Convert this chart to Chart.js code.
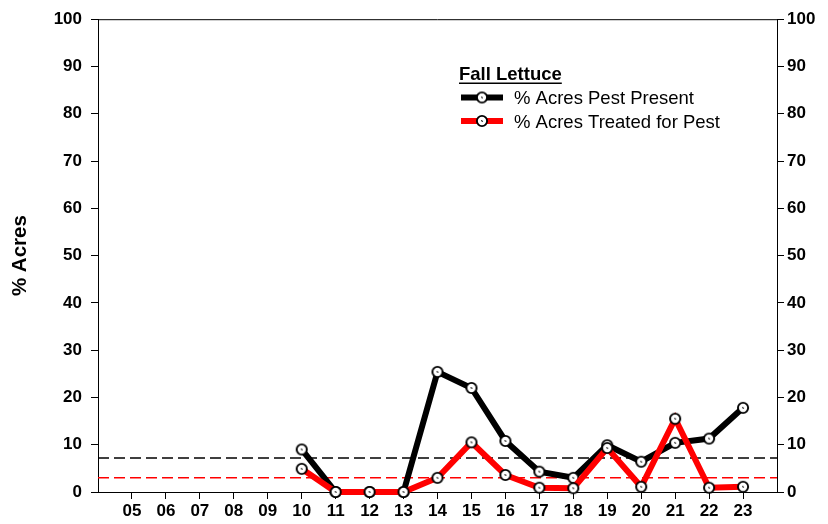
<!DOCTYPE html>
<html>
<head>
<meta charset="utf-8">
<script src="https://cdn.jsdelivr.net/npm/chart.js@4/dist/chart.umd.min.js"></script>
<style>
html,body{margin:0;padding:0;background:#fff;}
#wrap{width:828px;height:524px;position:relative;}
</style>
</head>
<body>
<div id="wrap"><canvas id="c" width="828" height="524"></canvas></div>
<script>
// ---- data ----
const years = ['05','06','07','08','09','10','11','12','13','14','15','16','17','18','19','20','21','22','23'];
const pestPresent = [null,null,null,null,null,9.0,0,0,0,25.4,22.0,10.8,4.3,3.0,9.9,6.4,10.4,11.3,17.8];
const treated     = [null,null,null,null,null,4.9,0,0,0,3.0,10.5,3.6,0.9,0.8,9.3,1.1,15.5,0.9,1.1];
const presentAvg = 7.2;
const treatedAvg = 3.0;
const yTicks = [0,10,20,30,40,50,60,70,80,90,100];
const legendTitle = 'Fall Lettuce';
const seriesNames = ['% Acres Pest Present','% Acres Treated for Pest'];
const axisTitle = '% Acres';

const firstYear = parseInt(years[0],10);
const lastYear = parseInt(years[years.length-1],10);
const toPts = arr => arr.map((v,i)=>({x:firstYear+i,y:v})).filter(p=>p.y!==null);

// marker image
function makeMarker(){
  const c=document.createElement('canvas'); c.width=14; c.height=14;
  const g=c.getContext('2d');
  g.beginPath(); g.arc(7,7,5.1,0,Math.PI*2);
  g.fillStyle='#fff'; g.fill();
  g.lineWidth=1.9; g.strokeStyle='#000'; g.stroke();
  g.beginPath(); g.moveTo(6.3,6.3); g.lineTo(7.7,7.7); g.lineWidth=1.2; g.stroke();
  return c;
}
const marker = makeMarker();

const FONT = "'Liberation Sans', Arial, Helvetica, sans-serif";

const framePlugin = {
  id:'frame',
  afterDraw(chart){
    const {ctx, chartArea:a} = chart;
    ctx.save();
    ctx.strokeStyle='#000'; ctx.lineWidth=1;
    ctx.beginPath(); ctx.moveTo(a.left, a.top+0.5); ctx.lineTo(a.right, a.top+0.5); ctx.stroke();
    // legend
    ctx.fillStyle='#000';
    ctx.font = "bold 18.5px " + FONT;
    ctx.textBaseline='alphabetic';
    ctx.textAlign='left';
    const tx=459, ty=80;
    ctx.fillText(legendTitle, tx, ty);
    const w = ctx.measureText(legendTitle).width;
    ctx.lineWidth=1.6;
    ctx.beginPath(); ctx.moveTo(tx, ty+3.3); ctx.lineTo(tx+w, ty+3.3); ctx.stroke();
    const items = [
      {name:seriesNames[0], color:chart.data.datasets[0].borderColor, y:97.5},
      {name:seriesNames[1], color:chart.data.datasets[1].borderColor, y:121}
    ];
    ctx.font = "18.5px " + FONT;
    items.forEach(it=>{
      ctx.strokeStyle=it.color; ctx.lineWidth=6;
      ctx.beginPath(); ctx.moveTo(461,it.y); ctx.lineTo(503,it.y); ctx.stroke();
      ctx.drawImage(marker, 482-7, it.y-7);
      ctx.fillStyle='#000';
      ctx.fillText(it.name, 514, it.y+6.6);
    });
    ctx.restore();
  }
};

const tickFont = {family:FONT, size:17, weight:'bold'};

new Chart(document.getElementById('c'), {
  type:'line',
  data:{
    datasets:[
      {label:seriesNames[0], data:toPts(pestPresent), borderColor:'#000000', borderWidth:6,
       pointStyle:marker, pointRadius:7, pointHoverRadius:7, tension:0, order:2, clip:false},
      {label:seriesNames[1], data:toPts(treated), borderColor:'#ff0000', borderWidth:6,
       pointStyle:marker, pointRadius:7, pointHoverRadius:7, tension:0, order:1, clip:false},
      {label:'present avg', data:[{x:firstYear-1,y:presentAvg},{x:lastYear+1,y:presentAvg}],
       borderColor:'#000000', borderWidth:1.6, borderDash:[11,5], pointRadius:0, order:4},
      {label:'treated avg', data:[{x:firstYear-1,y:treatedAvg},{x:lastYear+1,y:treatedAvg}],
       borderColor:'#ff0000', borderWidth:1.6, borderDash:[11,5], pointRadius:0, order:3}
    ]
  },
  options:{
    responsive:false, animation:false,
    devicePixelRatio:1,
    layout:{padding:{top:18,left:0,right:0,bottom:0}},
    plugins:{legend:{display:false}, tooltip:{enabled:false}},
    scales:{
      x:{
        type:'linear', min:firstYear-1, max:lastYear+1,
        afterBuildTicks(s){ s.ticks = years.map(y=>({value:parseInt(y,10)})); },
        afterFit(s){ s.height=32; },
        ticks:{font:tickFont, color:'#000', padding:2, autoSkip:false, maxRotation:0,
          callback:(v)=>{ const i=v-firstYear; return years[i]!==undefined?years[i]:''; }},
        grid:{drawOnChartArea:false, tickLength:7, tickColor:'#000', tickWidth:1},
        border:{color:'#000', width:1}
      },
      y:{
        position:'left', min:0, max:100,
        afterBuildTicks(s){ s.ticks = yTicks.map(v=>({value:v})); },
        afterFit(s){ s.width=98; },
        ticks:{font:tickFont, color:'#000', padding:9},
        grid:{drawOnChartArea:false, tickLength:7, tickColor:'#000', tickWidth:1},
        border:{color:'#000', width:1},
        title:{display:true, text:axisTitle, color:'#000', font:{family:FONT, size:20.5, weight:'bold'}, padding:{top:8,bottom:0}}
      },
      y2:{
        position:'right', min:0, max:100,
        afterBuildTicks(s){ s.ticks = yTicks.map(v=>({value:v})); },
        afterFit(s){ s.width=51; },
        ticks:{font:tickFont, color:'#000', padding:3},
        grid:{drawOnChartArea:false, tickLength:7, tickColor:'#000', tickWidth:1},
        border:{color:'#000', width:1}
      }
    }
  },
  plugins:[framePlugin]
});
</script>
</body>
</html>
